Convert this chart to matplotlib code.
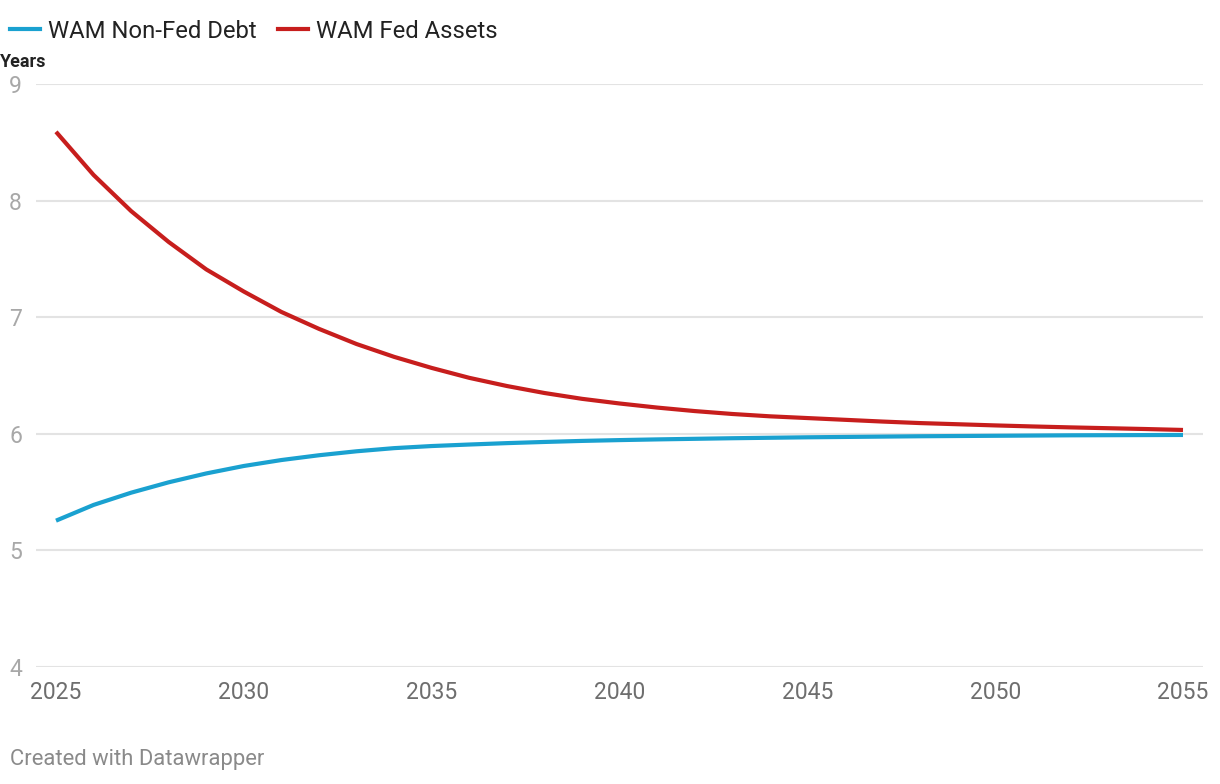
import numpy as np
import matplotlib.pyplot as plt
from matplotlib.lines import Line2D

plt.rcParams['font.family'] = ['Roboto', 'DejaVu Sans']

years = list(range(2025, 2056))
# WAM = weighted average maturity, in years
wam_non_fed = [5.255, 5.39, 5.495, 5.584, 5.66, 5.724, 5.775, 5.816, 5.85, 5.877,
               5.895, 5.908, 5.92, 5.93, 5.939, 5.946, 5.952, 5.957, 5.962, 5.966,
               5.970, 5.973, 5.976, 5.979, 5.981, 5.983, 5.985, 5.987, 5.988, 5.989, 5.990]
wam_fed = [8.59, 8.22, 7.91, 7.645, 7.41, 7.22, 7.045, 6.90, 6.77, 6.66,
           6.565, 6.48, 6.41, 6.35, 6.30, 6.26, 6.225, 6.195, 6.17, 6.15,
           6.135, 6.12, 6.105, 6.092, 6.082, 6.072, 6.063, 6.055, 6.048, 6.041, 6.033]
x_ticks = [2025, 2030, 2035, 2040, 2045, 2050, 2055]
y_ticks = [4, 5, 6, 7, 8, 9]

blue = '#1aa1d0'
red = '#c71e1d'

fig = plt.figure(figsize=(12.2, 7.84), dpi=100)
ax = fig.add_axes([36/1220, 1 - 667/784, (1203 - 36)/1220, (667 - 84)/784])

for y in y_ticks:
    ax.axhline(y, color='#e3e3e3', linewidth=1.5, zorder=0)

ax.plot(years, wam_non_fed, color=blue, linewidth=3, solid_capstyle='butt', zorder=3)
ax.plot(years, wam_fed, color=red, linewidth=3, solid_capstyle='butt', zorder=3)

ax.set_xlim(2025 - 20/37.57, 2055 + 20/37.57)
ax.set_ylim(4, 9)
ax.set_xticks(x_ticks)
ax.set_xticklabels([str(t) for t in x_ticks], fontsize=16.5, color='#6e6e6e')
ax.set_yticks(y_ticks)
ax.set_yticklabels([str(t) for t in y_ticks], fontsize=16.5, color='#a8a8a8')
ax.tick_params(axis='x', length=0, pad=10)
ax.tick_params(axis='y', length=0, pad=10)
for s in ax.spines.values():
    s.set_visible(False)

handles = [Line2D([], [], color=blue, linewidth=3),
           Line2D([], [], color=red, linewidth=3)]
fig.legend(handles, ['WAM Non-Fed Debt', 'WAM Fed Assets'], loc='center left',
           bbox_to_anchor=(10/1220, 1 - 31/784), ncol=2, frameon=False,
           fontsize=17.2, handlelength=1.25, handletextpad=0.33, columnspacing=0.92,
           labelcolor='#222222', borderaxespad=0, borderpad=0)

fig.text(0, 1 - 62/784, 'Years', fontsize=13, fontweight='bold',
         color='#222222', ha='left', va='center')
fig.text(10/1220, 1 - 760/784, 'Created with Datawrapper', fontsize=15.8,
         color='#8a8a8a', ha='left', va='center')

fig.savefig('out.png', dpi=100)
